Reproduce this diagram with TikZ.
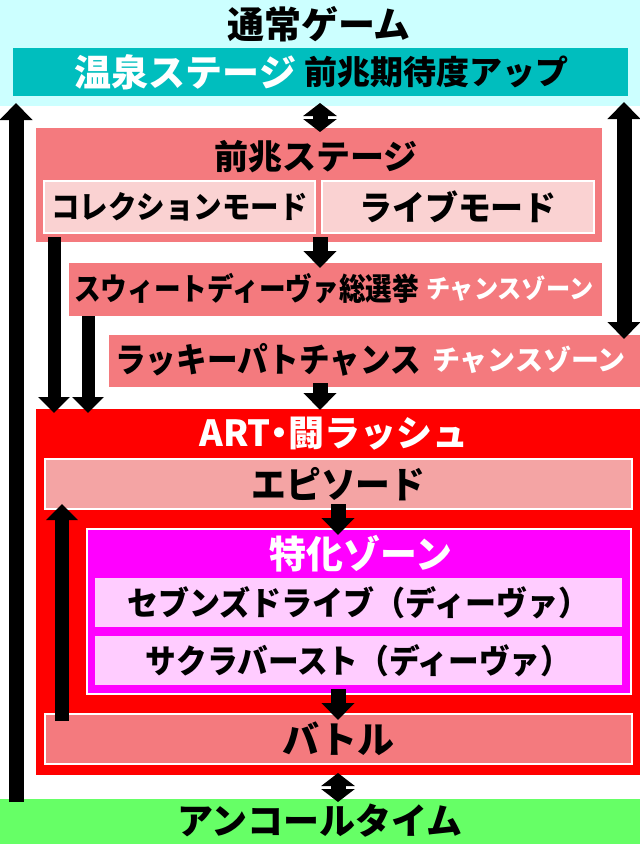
\documentclass[tikz,border=0pt]{standalone}
\usepackage{fontspec}
\setmainfont{Noto Sans CJK JP}
\usepackage{graphicx}
\usepackage{xcolor}
\usetikzlibrary{arrows.meta, positioning, calc}

\definecolor{normalcyan}{HTML}{CCFFFF}
\definecolor{onsenteal}{HTML}{00BEBE}
\definecolor{zenchored}{HTML}{F47A7E}
\definecolor{modepink}{HTML}{FAD2D2}
\definecolor{artred}{HTML}{FF0000}
\definecolor{episodepink}{HTML}{F4A4A4}
\definecolor{tokkamag}{HTML}{FF00FF}
\definecolor{tokkapink}{HTML}{FFCCFF}
\definecolor{encoregreen}{HTML}{66FF66}

\newcommand{\fsz}[1]{\fontsize{#1pt}{#1pt}\selectfont}

\begin{document}
\begin{tikzpicture}[
    x=1pt, y=-1pt,
    box/.style={rectangle, inner sep=0pt, outer sep=0pt, draw=none, font=\bfseries},
    subbox/.style={box, draw=white, line width=1.5pt},
    txt/.style={inner sep=0pt, outer sep=0pt, font=\bfseries},
    bigarrow/.style={line width=15pt, -{Triangle[width=32pt,length=17pt]}},
    bigboth/.style={line width=15pt, {Triangle[width=32pt,length=17pt]}-{Triangle[width=32pt,length=17pt]}},
    midarrow/.style={line width=13pt, -{Triangle[width=31pt,length=16pt]}},
    smallboth/.style={line width=15pt, {Triangle[width=33pt,length=13pt]}-{Triangle[width=33pt,length=13pt]}}
]
    \useasboundingbox (0,0) rectangle (640,844);

    % Normal game band on top, encore band at the bottom.
    \node[box, fill=normalcyan, minimum width=640pt, minimum height=106pt] (normal) at (320,53) {};
    \node[txt, text=black] (normaltitle) at (319,24) {\fsz{37}通常ゲーム};
    \node[box, fill=onsenteal, minimum width=615pt, minimum height=48pt] (onsen) at (320.5,72) {};
    \node[txt, text=white, anchor=east] (onsenname) at (296,72) {\fsz{37}温泉ステージ};
    \node[txt, text=black, anchor=west] (onsennote) at (304,72) {\fsz{33}前兆期待度アップ};
    \node[box, fill=encoregreen, minimum width=640pt, minimum height=45pt] (encore) at (320,821.5) {};
    \node[txt] (encoretitle) at (320,821) {\fsz{36}アンコールタイム};

    % Zencho stage and its modes.
    \node[box, fill=zenchored, minimum width=566pt, minimum height=114pt] (zencho) at (319,185) {};
    \node[txt] (zenchotitle) at (316,157) {\fsz{34}前兆ステージ};
    \node[subbox, fill=modepink, minimum width=271pt, minimum height=52pt] (collect) at (179.5,207)
        {\fsz{31}\scalebox{0.92}[1]{コレクションモード}};
    \node[subbox, fill=modepink, minimum width=272pt, minimum height=52pt] (live) at (458,207)
        {\fsz{34}\scalebox{0.97}[1]{ライブモード}};

    % Chance zones.
    \node[box, fill=zenchored, minimum width=533pt, minimum height=53pt] (sweet) at (335.5,289.5) {};
    \node[txt, anchor=east] (sweetname) at (419,289) {\fsz{31}\scalebox{0.86}[1]{スウィートディーヴァ総選挙}};
    \node[txt, text=white, anchor=west] (sweetnote) at (426,289) {\fsz{26}\scalebox{0.93}[1]{チャンスゾーン}};
    \node[box, fill=zenchored, minimum width=531pt, minimum height=52pt] (lucky) at (374.5,361) {};
    \node[txt, anchor=east] (luckyname) at (421,360) {\fsz{34}\scalebox{0.9}[1]{ラッキーパトチャンス}};
    \node[txt, text=white, anchor=west] (luckynote) at (432,360) {\fsz{28}チャンスゾーン};

    % ART rush.
    \node[box, fill=artred, minimum width=604pt, minimum height=366pt] (art) at (338,592) {};
    \node[txt, text=white] (arttitle) at (334,434) {\fsz{36}ART\kern-9pt・\kern-9pt闘ラッシュ};
    \node[subbox, fill=episodepink, minimum width=587pt, minimum height=50pt] (episode) at (338.5,484)
        {\fsz{37}\scalebox{0.94}[1]{エピソード}};
    \node[subbox, fill=tokkamag, minimum width=544pt, minimum height=165pt] (tokka) at (359,611.5) {};
    \node[txt, text=white] (tokkatitle) at (361,554) {\fsz{38}\scalebox{0.97}[1]{特化ゾーン}};
    \node[box, fill=tokkapink, minimum width=527pt, minimum height=49pt] (seven) at (358.5,602.5)
        {\fsz{33}\scalebox{0.94}[1]{セブンズドライブ（ディーヴァ）}};
    \node[box, fill=tokkapink, minimum width=527pt, minimum height=49pt] (sakura) at (358.5,660.5)
        {\fsz{33}\scalebox{0.93}[1]{サクラバースト（ディーヴァ）}};
    \node[subbox, fill=zenchored, minimum width=587pt, minimum height=50pt] (battle) at (338.5,739)
        {\fsz{37}バトル};

    % Lanes for the arrows.
    \coordinate (lanel) at (16,0);
    \coordinate (laner) at (624,0);
    \coordinate (lanec) at (320,0);
    \coordinate (lanea) at (338,0);
    \coordinate (lanecol) at (54,0);
    \coordinate (lanesw) at (88,0);
    \coordinate (laneb) at (62,0);

    \draw[bigarrow, shorten <=-3pt, shorten >=-3pt] (encore.north -| lanel) -- (normal.south -| lanel);
    \draw[bigboth, shorten <=-4pt, shorten >=-4pt] (normal.south -| laner) -- (lucky.north -| laner);
    \draw[smallboth, shorten <=-3pt, shorten >=-4pt] (normal.south -| lanec) -- (zencho.north -| lanec);
    \draw[bigarrow, shorten <=-5pt, shorten >=-5pt] (zencho.south -| lanec) -- (sweet.north -| lanec);
    \draw[bigarrow, shorten <=-4pt, shorten >=-1pt] (lucky.south -| lanec) -- (art.north -| lanec);
    \draw[midarrow, shorten <=-5pt, shorten >=-4pt] (zencho.south -| lanecol) -- (art.north -| lanecol);
    \draw[midarrow, shorten >=-4pt] (sweet.south -| lanesw) -- (art.north -| lanesw);
    \draw[bigarrow, shorten <=-5pt, shorten >=-6pt] (episode.south -| lanea) -- (tokka.north -| lanea);
    \draw[bigarrow, shorten <=-5pt, shorten >=-6pt] (tokka.south -| lanea) -- (battle.north -| lanea);
    \draw[midarrow, line width=14pt, shorten <=-7pt, shorten >=-5pt] (battle.north -| laneb) -- (episode.south -| laneb);
    \draw[smallboth, shorten <=-2pt, shorten >=-3pt] (art.south -| lanea) -- (encore.north -| lanea);
\end{tikzpicture}
\end{document}
